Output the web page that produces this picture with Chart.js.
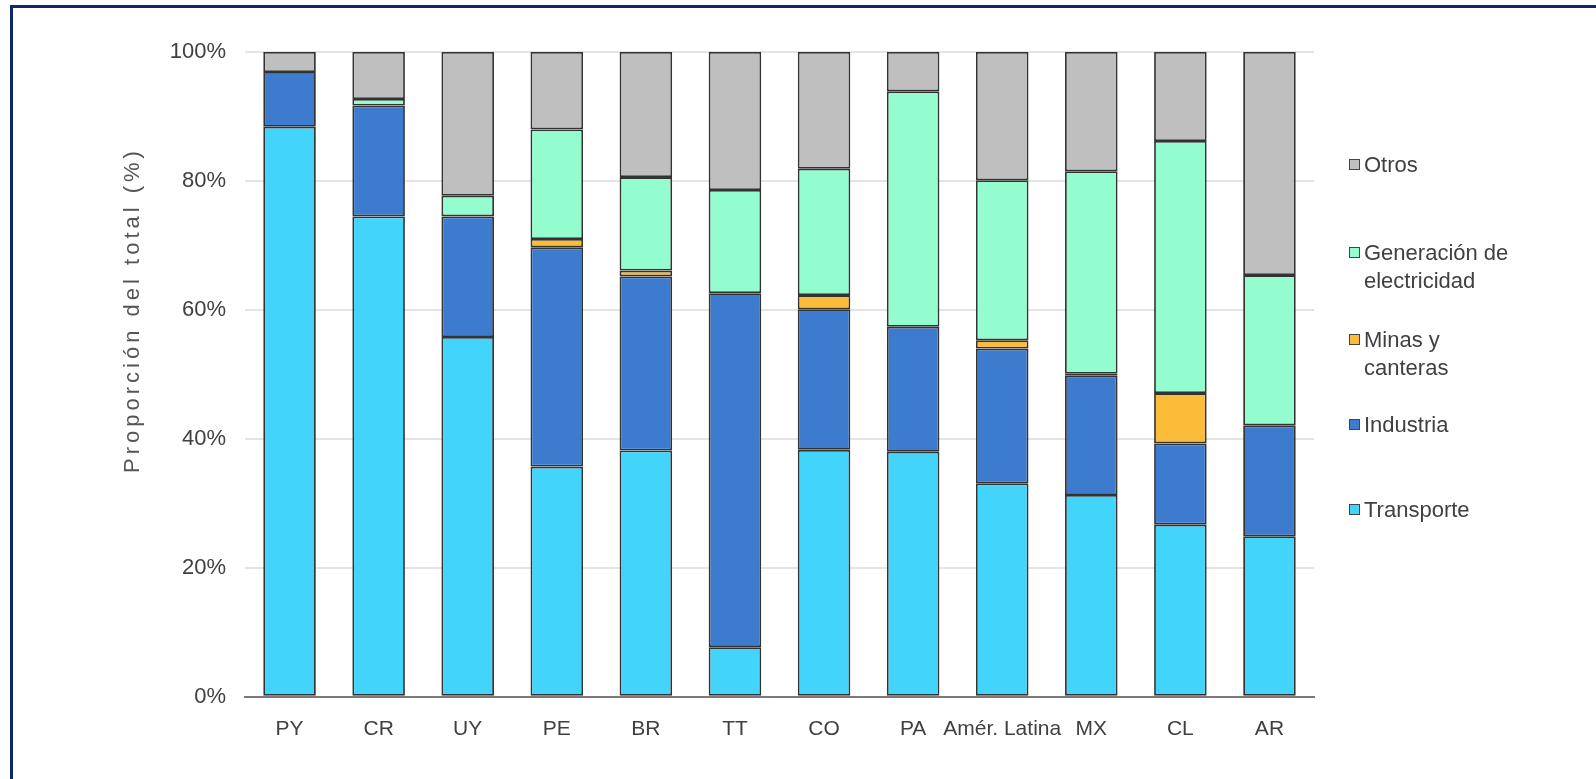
<!DOCTYPE html>
<html>
<head>
<meta charset="utf-8">
<script src="https://cdn.jsdelivr.net/npm/chart.js@4/dist/chart.umd.min.js"></script>
<style>
  html, body { margin: 0; padding: 0; background: #fff; overflow: hidden; }
  #wrap { position: relative; width: 1596px; height: 779px; }
  #marco { position: absolute; left: 10px; top: 5px; width: 2000px; height: 2000px;
           border-left: 3px solid #0b2a6b; border-top: 3px solid #0b2a6b; }
  #grafico { position: absolute; left: 0; top: 0; }
  #leyenda { position: absolute; left: 1349px; top: 0; font-family: "Liberation Sans", Arial, sans-serif;
             font-size: 22px; color: #404040; }
  .item { position: absolute; left: 0; white-space: nowrap; line-height: 28px; }
  .caja { position: absolute; left: 0; top: 8px; width: 9px; height: 9px; border: 1.5px solid #444; }
  .txt { margin-left: 15px; }
</style>
</head>
<body>
<div id="wrap">
  <div id="marco"></div>
  <canvas id="grafico" width="1596" height="779"></canvas>
  <div id="leyenda"></div>
</div>
<script>
// categorie (paesi) sull'asse x
const paises = ['PY', 'CR', 'UY', 'PE', 'BR', 'TT', 'CO', 'PA', 'Amér. Latina', 'MX', 'CL', 'AR'];

// quote per settore (% del totale)
const transporte  = [88.4, 74.5, 55.8, 35.7, 38.2,  7.7, 38.3, 38.0, 33.1, 31.3, 26.7, 24.9];
const industria   = [ 8.5, 17.2, 18.7, 34.0, 27.0, 54.9, 21.8, 19.4, 20.9, 18.5, 12.6, 17.2];
const minas       = [ 0.0,  0.0,  0.0,  1.3,  0.9,  0.0,  2.2,  0.0,  1.3,  0.3,  7.8,  0.0];
const generacion  = [ 0.0,  1.0,  3.2, 17.0, 14.5, 16.0, 19.6, 36.5, 24.8, 31.4, 39.1, 23.3];
const otros       = [ 3.1,  7.3, 22.3, 12.0, 19.4, 21.4, 18.1,  6.1, 19.9, 18.5, 13.8, 34.6];

// tacche asse y
const yTicks = [0, 20, 40, 60, 80, 100];

const serie = [ // dal basso verso l'alto
  { label: ['Transporte'],                   data: transporte, color: '#42d4fa' },
  { label: ['Industria'],                    data: industria,  color: '#3d7bcf' },
  { label: ['Minas y', 'canteras'],          data: minas,      color: '#fbbc3a' },
  { label: ['Generación de', 'electricidad'], data: generacion, color: '#93fdd0' },
  { label: ['Otros'],                        data: otros,      color: '#bfbfbf' }
];

const FONT = '"Liberation Sans", Arial, sans-serif';

// titolo asse y disegnato a mano (serve la spaziatura tra lettere)
const titoloY = {
  id: 'titoloY',
  afterDraw(chart){
    const ctx = chart.ctx;
    ctx.save();
    ctx.translate(133, 310);
    ctx.rotate(-Math.PI / 2);
    ctx.font = '22px ' + FONT;
    ctx.fillStyle = '#555';
    ctx.textAlign = 'center';
    ctx.textBaseline = 'middle';
    if ('letterSpacing' in ctx) ctx.letterSpacing = '4px';
    ctx.fillText('Proporción del total (%)', 0, 0);
    ctx.restore();
  }
};

const ctx = document.getElementById('grafico').getContext('2d');
new Chart(ctx, {
  type: 'bar',
  data: {
    labels: paises,
    datasets: serie.map(s => ({
      label: s.label.join(' '), data: s.data, backgroundColor: s.color,
      borderColor: '#333', borderWidth: 1.8, borderSkipped: false,
      barPercentage: 0.59, categoryPercentage: 1
    }))
  },
  options: {
    responsive: false, animation: false,
    layout: { padding: { left: 118, right: 282, top: 52, bottom: 17 } },
    plugins: { legend: { display: false }, tooltip: { enabled: false } },
    scales: {
      x: {
        stacked: true,
        grid: { display: false, drawTicks: false },
        border: { color: '#7a7a7a', width: 2 },
        ticks: { color: '#404040', font: { family: FONT, size: 21 }, padding: 20, maxRotation: 0, autoSkip: false }
      },
      y: {
        stacked: true, min: 0, max: 100,
        afterFit: s => { s.width = 127; },
        afterBuildTicks: s => { s.ticks = yTicks.map(v => ({ value: v })); },
        grid: { color: '#e4e4e4', lineWidth: 2, drawTicks: false },
        border: { display: false },
        ticks: { color: '#404040', font: { family: FONT, size: 22 }, padding: 19, callback: v => v + '%' }
      }
    }
  },
  plugins: [titoloY]
});

// legenda html, in ordine inverso (Otros in alto)
const posLeyenda = [165, 253, 340, 425, 510]; // centro prima riga, dall'alto
const leyenda = document.getElementById('leyenda');
serie.slice().reverse().forEach((s, i) => {
  const item = document.createElement('div');
  item.className = 'item';
  item.style.top = (posLeyenda[i] - 14) + 'px';
  const caja = document.createElement('div');
  caja.className = 'caja';
  caja.style.background = s.color;
  const txt = document.createElement('div');
  txt.className = 'txt';
  txt.innerHTML = s.label.join('<br>');
  item.append(caja, txt);
  leyenda.appendChild(item);
});
</script>
</body>
</html>
